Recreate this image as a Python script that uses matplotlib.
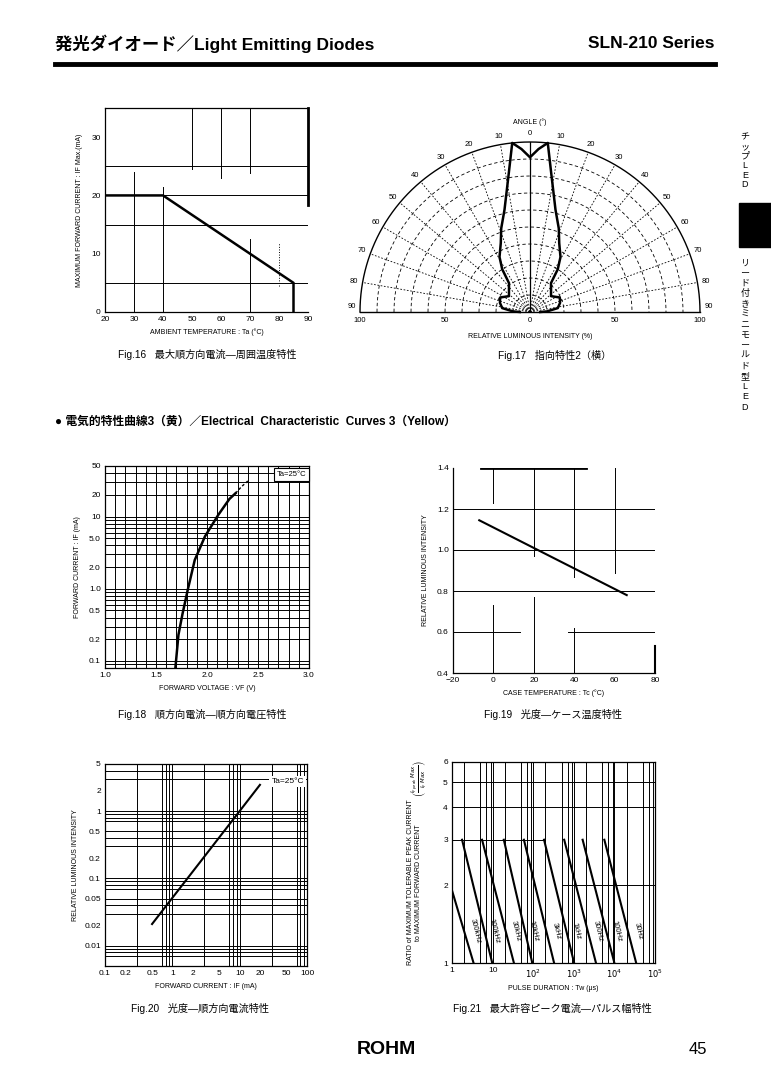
import numpy as np
import matplotlib
matplotlib.use("Agg")
import matplotlib.pyplot as plt
from matplotlib import font_manager
from matplotlib.lines import Line2D
from matplotlib.patches import Rectangle

W, H = 771, 1092

# ---- values ----
# Fig.16 max forward current vs ambient temperature
ambient_temp = [20, 40, 85, 85]
max_forward_current = [20, 20, 5, 0]

# Fig.17 directivity, one half of the lobe (mirrored for the other side)
lobe_angle = [0, 3, 6, 9, 14, 19, 23, 29, 33, 36, 45, 53, 58, 64, 73, 82, 88, 90]
lobe_intensity = [91, 96, 100, 81, 62, 52, 44, 37, 30, 21, 17.5, 15.5, 17, 19.5, 18.5, 16.5, 10, 6]

# Fig.18 forward current vs forward voltage
vf_solid = [1.69, 1.72, 1.76, 1.81, 1.88, 1.98, 2.11, 2.22, 2.28]
if_solid = [0.08, 0.23, 0.45, 0.95, 2.5, 5.3, 10.5, 17.5, 21]
vf_dash = [2.28, 2.34, 2.40]
if_dash = [21, 26, 31]

# Fig.19 luminous intensity vs case temperature
case_temp = [-7, 25, 66]
intensity_vs_temp = [1.145, 0.985, 0.78]

# Fig.20 luminous intensity vs forward current
forward_current = [0.5, 10, 20]
intensity_vs_if = [0.021, 1.0, 2.45]

# Fig.21 max peak current ratio vs pulse duration
pulse_labels = ["300kHz", "100kHz", "30kHz", "10kHz", "3kHz", "1kHz", "300Hz", "100Hz", "30Hz"]
pulse_t_start = [1, 1.77, 5.5, 18.9, 59, 185, 580, 1650, 5650]
pulse_t_end = [3.4, 9.8, 33.5, 95, 327, 1020, 3520, 10000, 34400]
pulse_ratio_start = [1.91, 3, 3, 3, 3, 3, 3, 3, 3]
pulse_ratio_end = [1, 1, 1, 1, 1, 1, 1, 1, 1]

names = {f.name for f in font_manager.fontManager.ttflist}
NARROW = "Liberation Sans Narrow" if "Liberation Sans Narrow" in names else "Liberation Sans"
plt.rcParams["font.family"] = ["Liberation Sans", "Noto Sans CJK JP", "DejaVu Sans"]
plt.rcParams["axes.linewidth"] = 0.9
plt.rcParams["xtick.major.size"] = 0
plt.rcParams["ytick.major.size"] = 0
plt.rcParams["xtick.minor.size"] = 0
plt.rcParams["ytick.minor.size"] = 0
plt.rcParams["xtick.labelsize"] = 6
plt.rcParams["ytick.labelsize"] = 6
plt.rcParams["xtick.major.pad"] = 3
plt.rcParams["ytick.major.pad"] = 3

fig = plt.figure(figsize=(W / 100, H / 100), dpi=100)
GRID = dict(color="k", lw=0.7)
LABEL = dict(fontsize=5, family=[NARROW, "DejaVu Sans"])


def px_axes(left, top, right, bottom):
    return fig.add_axes([left / W, 1 - bottom / H, (right - left) / W, (bottom - top) / H])


def fig_text(x, y, s, **kw):
    fig.text(x / W, 1 - y / H, s, **kw)


def seg(ax, xs, ys, **kw):
    ax.plot(xs, ys, color="k", lw=kw.pop("lw", 0.7), **kw)


# ---- page header / side tab / footer ----
fig_text(55, 44, "発光ダイオード／Light Emitting Diodes", fontsize=12.5, fontweight="bold", va="center")
fig_text(715, 44, "SLN-210 Series", fontsize=12.5, fontweight="bold", va="center", ha="right")
fig.add_artist(Line2D([55 / W, 715 / W], [1 - 64 / H] * 2, lw=3.5, color="k"))
fig.add_artist(Rectangle((739 / W, 1 - 247 / H), 32 / W, 44 / H, color="k"))
for i, ch in enumerate("チップLED"):
    fig_text(745, 137 + i * 9.5, ch, fontsize=6.5, ha="center", va="center")
for i, ch in enumerate("リード付きミニモールド型LED"):
    fig_text(745, 263 + i * 10.3, ch, fontsize=6.5, ha="center", va="center")
fig_text(55, 422, "● 電気的特性曲線3（黄）／Electrical  Characteristic  Curves 3（Yellow）",
         fontsize=8.5, fontweight="bold", va="center")
CAP = dict(fontsize=7.3, va="center")
fig_text(118, 355, "Fig.16   最大順方向電流—周囲温度特性", **CAP)
fig_text(498, 355, "Fig.17   指向特性2（横）", **CAP)
fig_text(118, 715, "Fig.18   順方向電流—順方向電圧特性", **CAP)
fig_text(484, 715, "Fig.19   光度—ケース温度特性", **CAP)
fig_text(131, 1008, "Fig.20   光度—順方向電流特性", **CAP)
fig_text(453, 1008, "Fig.21   最大許容ピーク電流—パルス幅特性", **CAP)
fig_text(386, 1050, "ROHM", fontsize=14, fontweight="heavy", ha="center", va="center")
fig_text(707, 1050, "45", fontsize=12, ha="right", va="center")

# ---- Fig.16 ----
ax16 = px_axes(105, 108, 308, 312)
ax16.set_xlim(20, 90)
ax16.set_ylim(0, 35)
ax16.set_xticks([20, 30, 40, 50, 60, 70, 80, 90])
ax16.set_yticks([0, 10, 20, 30])
for y in [5, 15, 20, 25]:
    ax16.axhline(y, **GRID)
seg(ax16, [30, 30], [0, 24])
seg(ax16, [40, 40], [0, 21.5])
for x, y0 in [(50, 24.5), (60, 23), (70, 23.8)]:
    seg(ax16, [x, x], [y0, 35])
seg(ax16, [70, 70], [0, 12.5])
seg(ax16, [80, 80], [4.5, 11.8], ls=":")
ax16.plot(ambient_temp, max_forward_current, color="k", lw=1.8)
ax16.spines["right"].set_linewidth(2)
ax16.spines["right"].set_bounds(18.4, 35)
ax16.set_xlabel("AMBIENT TEMPERATURE : Ta (°C)", labelpad=4, **LABEL)
ax16.set_ylabel("MAXIMUM FORWARD CURRENT : IF Max.(mA)", labelpad=6, **LABEL)

# ---- Fig.17 directivity ----
ax17 = px_axes(360, 142, 700, 312)
ax17.set_xlim(-100, 100)
ax17.set_ylim(0, 100)
ax17.axis("off")
theta = np.radians(np.linspace(-90, 90, 361))
for r in range(10, 100, 10):
    ax17.plot(r * np.sin(theta), r * np.cos(theta), color="k", lw=0.6, ls=(0, (4, 3)), clip_on=False)
ax17.plot(100 * np.sin(theta), 100 * np.cos(theta), color="k", lw=1.0, clip_on=False)
for a in range(-80, 90, 10):
    if a == 0:
        continue
    t = np.radians(a)
    ax17.plot([0, 100 * np.sin(t)], [0, 100 * np.cos(t)], color="k", lw=0.6, ls=(0, (2, 2)))
ax17.plot([0, 0], [0, 100], color="k", lw=0.9)
ax17.plot([-100, 100], [0, 0], color="k", lw=1.0, clip_on=False)
ang = np.radians([-a for a in lobe_angle[::-1]] + lobe_angle[1:])
inten = np.array(lobe_intensity[::-1] + lobe_intensity[1:])
ax17.plot(inten * np.sin(ang), inten * np.cos(ang), color="k", lw=1.8, clip_on=False)
for a in range(0, 91, 10):
    for s in ([1] if a == 0 else [-1, 1]):
        t = np.radians(s * a)
        dy = 3 if a == 90 else 0
        ax17.text(105 * np.sin(t), 105 * np.cos(t) + dy, str(a), fontsize=5.5,
                  ha="center", va="center", family=[NARROW, "DejaVu Sans"])
for x, s in [(-100, "100"), (-50, "50"), (0, "0"), (50, "50"), (100, "100")]:
    ax17.text(x, -5, s, fontsize=5.5, ha="center", va="center", family=[NARROW, "DejaVu Sans"])
ax17.text(0, -14.7, "RELATIVE LUMINOUS INTENSITY (%)", ha="center", va="center", **LABEL)
ax17.text(0, 111.8, "ANGLE (°)", ha="center", va="center", **LABEL)

# ---- Fig.18 IF-VF ----
ax18 = px_axes(105, 466, 309, 668)
ax18.set_yscale("log")
ax18.set_xlim(1.0, 3.0)
ax18.set_ylim(0.08, 50)
for x in np.arange(1.1, 3.0, 0.1):
    ax18.axvline(x, **GRID)
for dec in [0.01, 0.1, 1, 10]:
    for m in range(1, 10):
        v = m * dec
        if 0.08 < v < 50:
            ax18.axhline(v, **GRID)
ax18.plot(vf_solid, if_solid, color="k", lw=1.8)
ax18.plot(vf_dash, if_dash, color="k", lw=1.0, ls=(0, (2, 1.5)))
ax18.set_xticks([1.0, 1.5, 2.0, 2.5, 3.0], ["1.0", "1.5", "2.0", "2.5", "3.0"])
ax18.set_yticks([0.1, 0.2, 0.5, 1, 2, 5, 10, 20, 50],
                ["0.1", "0.2", "0.5", "1.0", "2.0", "5.0", "10", "20", "50"])
ax18.yaxis.set_minor_locator(plt.NullLocator())
ax18.text(0.985, 0.975, "Ta=25°C", transform=ax18.transAxes, ha="right", va="top", fontsize=5.5,
          bbox=dict(fc="white", ec="k", lw=0.8, pad=2))
ax18.set_xlabel("FORWARD VOLTAGE : VF (V)", labelpad=4, **LABEL)
ax18.set_ylabel("FORWARD CURRENT : IF (mA)", labelpad=6, **LABEL)

# ---- Fig.19 intensity vs Tc ----
ax19 = px_axes(453, 468, 655, 673)
ax19.set_xlim(-20, 80)
ax19.set_ylim(0.4, 1.4)
for y in [1.2, 1.0, 0.8]:
    ax19.axhline(y, **GRID)
seg(ax19, [-20, 13], [0.6, 0.6])
seg(ax19, [37, 80], [0.6, 0.6])
for x, top_end, bottom_end in [(0, 1.23, 0.73), (20, 0.97, 0.77), (40, 0.87, 0.62)]:
    seg(ax19, [x, x], [top_end, 1.4])
    seg(ax19, [x, x], [0.4, bottom_end])
seg(ax19, [60, 60], [0.89, 1.4])
ax19.plot(case_temp, intensity_vs_temp, color="k", lw=1.5)
ax19.spines["top"].set_visible(False)
seg(ax19, [-6, 46], [1.4, 1.4], lw=2)
ax19.spines["right"].set_bounds(0.4, 0.53)
ax19.spines["right"].set_linewidth(1.5)
ax19.set_xticks([-20, 0, 20, 40, 60, 80], ["−20", "0", "20", "40", "60", "80"])
ax19.set_yticks([0.4, 0.6, 0.8, 1.0, 1.2, 1.4])
ax19.set_xlabel("CASE TEMPERATURE : Tc (°C)", labelpad=4, **LABEL)
ax19.set_ylabel("RELATIVE LUMINOUS INTENSITY", labelpad=6, **LABEL)

# ---- Fig.20 intensity vs IF ----
ax20 = px_axes(105, 764, 307, 966)
ax20.set_xscale("log")
ax20.set_yscale("log")
ax20.set_xlim(0.1, 100)
ax20.set_ylim(0.005, 5)
for dec in [0.1, 1, 10]:
    for m in [1, 3, 7, 8, 9]:
        ax20.axvline(m * dec, **GRID)
for dec in [0.001, 0.01, 0.1, 1]:
    for m in [1, 3, 4, 5, 7, 8, 9]:
        v = m * dec
        if 0.005 < v < 5:
            ax20.axhline(v, **GRID)
ax20.plot(forward_current, intensity_vs_if, color="k", lw=1.5)
ax20.set_xticks([0.1, 0.2, 0.5, 1, 2, 5, 10, 20, 50, 100],
                ["0.1", "0.2", "0.5", "1", "2", "5", "10", "20", "50", "100"])
ax20.set_yticks([0.01, 0.02, 0.05, 0.1, 0.2, 0.5, 1, 2, 5],
                ["0.01", "0.02", "0.05", "0.1", "0.2", "0.5", "1", "2", "5"])
ax20.xaxis.set_minor_locator(plt.NullLocator())
ax20.yaxis.set_minor_locator(plt.NullLocator())
ax20.text(0.985, 0.915, "Ta=25°C", transform=ax20.transAxes, ha="right", va="center", fontsize=6,
          bbox=dict(fc="white", ec="none", pad=1.5))
ax20.set_xlabel("FORWARD CURRENT : IF (mA)", labelpad=4, **LABEL)
ax20.set_ylabel("RELATIVE LUMINOUS INTENSITY", labelpad=4, **LABEL)

# ---- Fig.21 peak current ratio vs pulse duration ----
ax21 = px_axes(452, 762, 655, 963)
ax21.set_xscale("log")
ax21.set_yscale("log")
ax21.set_xlim(1, 1e5)
ax21.set_ylim(1, 6)
for dec in [1, 10, 100, 1000, 10000]:
    for m in [2, 5, 7, 9]:
        ax21.axvline(m * dec, **GRID)
    if dec > 1:
        ax21.axvline(dec, **GRID)
for y in [4, 5]:
    ax21.axhline(y, **GRID)
seg(ax21, [1, 200], [3, 3])
seg(ax21, [500, 1e5], [2, 2])
for lab, t0, t1, r0, r1 in zip(pulse_labels, pulse_t_start, pulse_t_end, pulse_ratio_start, pulse_ratio_end):
    ax21.plot([t0, t1], [r0, r1], color="k", lw=1.5)
    ax21.text(t1 * 1.1, 1.33, lab, rotation=-76, fontsize=5.5, ha="center", va="center",
              family=[NARROW, "DejaVu Sans"])
ax21.set_xticks([1, 10, 100, 1000, 10000, 100000],
                ["1", "10", "$10^2$", "$10^3$", "$10^4$", "$10^5$"])
ax21.set_yticks([1, 2, 3, 4, 5, 6], ["1", "2", "3", "4", "5", "6"])
ax21.xaxis.set_minor_locator(plt.NullLocator())
ax21.yaxis.set_minor_locator(plt.NullLocator())
ax21.set_xlabel("PULSE DURATION : Tw (μs)", labelpad=4, **LABEL)
ax21.set_ylabel("RATIO of MAXIMUM TOLERABLE PEAK CURRENT\nto MAXIMUM FORWARD CURRENT",
                linespacing=1.1, **LABEL)
ax21.yaxis.set_label_coords(-0.15, 0.4)
fig_text(419, 778, r"$\left(\frac{I_{F\,peak}\ Max}{I_F\ Max}\right)$", rotation=90,
         fontsize=5.5, ha="center", va="center")

fig.savefig("out.png", dpi=100)
